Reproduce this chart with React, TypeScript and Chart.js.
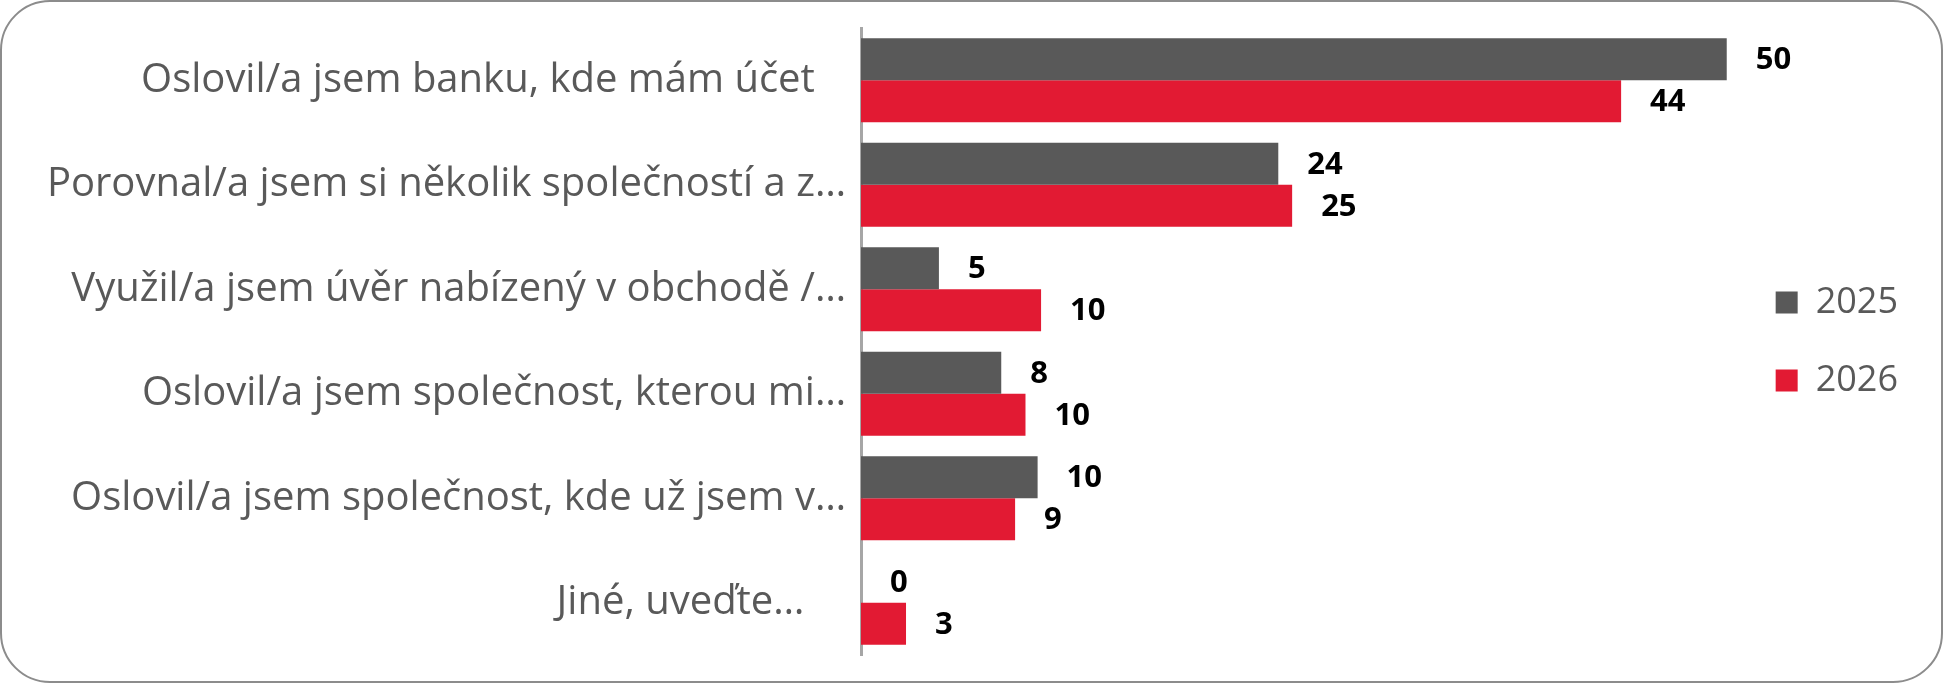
import React, { useEffect, useRef } from "react";
import { Chart, registerables } from "chart.js";

Chart.register(...registerables);

const categories: string[] = [
  "Oslovil/a jsem banku, kde mám účet   ",
  "Porovnal/a jsem si několik společností a z…",
  "Využil/a jsem úvěr nabízený v obchodě /…",
  "Oslovil/a jsem společnost, kterou mi…",
  "Oslovil/a jsem společnost, kde už jsem v…",
  "Jiné, uveďte…    ",
];

const seriesNames: string[] = ["2025", "2026"];
const values2025: number[] = [50, 24.1, 4.5, 8.1, 10.2, 0];
const values2026: number[] = [43.9, 24.9, 10.4, 9.5, 8.9, 2.6];
const seriesColors: string[] = ["#595959", "#E21A33"];
const xMax = 50.4;

const FONT = "'Open Sans', 'Noto Sans', sans-serif";

const valueLabels = {
  id: "valueLabels",
  afterDatasetsDraw(chart: any) {
    const ctx = chart.ctx;
    ctx.save();
    ctx.font = `bold 31px ${FONT}`;
    ctx.fillStyle = "#000000";
    ctx.textAlign = "left";
    ctx.textBaseline = "middle";
    chart.data.datasets.forEach((ds: any, di: number) => {
      const meta = chart.getDatasetMeta(di);
      meta.data.forEach((bar: any, i: number) => {
        const v = ds.data[i] as number;
        ctx.fillText(String(Math.round(v)), bar.x + 29, bar.y + 1);
      });
    });
    ctx.restore();
  },
};

export default function App() {
  const ref = useRef<HTMLCanvasElement | null>(null);

  useEffect(() => {
    if (!ref.current) return;
    const chart = new Chart(ref.current, {
      type: "bar",
      data: {
        labels: categories,
        datasets: [
          {
            label: seriesNames[0],
            data: values2025,
            backgroundColor: seriesColors[0],
            categoryPercentage: 0.803,
            barPercentage: 1.0,
          },
          {
            label: seriesNames[1],
            data: values2026,
            backgroundColor: seriesColors[1],
            categoryPercentage: 0.803,
            barPercentage: 1.0,
          },
        ],
      },
      options: {
        indexAxis: "y",
        animation: false,
        responsive: true,
        maintainAspectRatio: false,
        layout: { padding: { top: 26, bottom: 26, left: 0, right: 33 } },
        scales: {
          x: { display: false, min: 0, max: xMax },
          y: {
            grid: { display: false, drawTicks: false },
            border: { display: true, color: "#a6a6a6", width: 3 },
            ticks: {
              color: "#595959",
              font: { family: FONT, size: 40 },
              padding: 15,
              autoSkip: false,
            },
            afterFit: (s: any) => {
              s.width = 859;
              s.paddingTop = 0;
              s.paddingBottom = 0;
            },
          },
        },
        plugins: {
          legend: {
            position: "right",
            align: "center",
            labels: {
              boxWidth: 22,
              boxHeight: 22,
              padding: 42,
              color: "#595959",
              font: { family: FONT, size: 36 },
            },
          },
          tooltip: { enabled: false },
        },
      },
      plugins: [valueLabels],
    });
    return () => chart.destroy();
  }, []);

  return (
    <div
      style={{
        position: "absolute",
        left: 0,
        top: 0,
        width: 1943,
        height: 683,
        boxSizing: "border-box",
        border: "2px solid #8c8c8c",
        borderRadius: 50,
        background: "#ffffff",
        overflow: "hidden",
      }}
    >
      <div style={{ position: "relative", width: "100%", height: "100%" }}>
        <canvas ref={ref} />
      </div>
    </div>
  );
}
